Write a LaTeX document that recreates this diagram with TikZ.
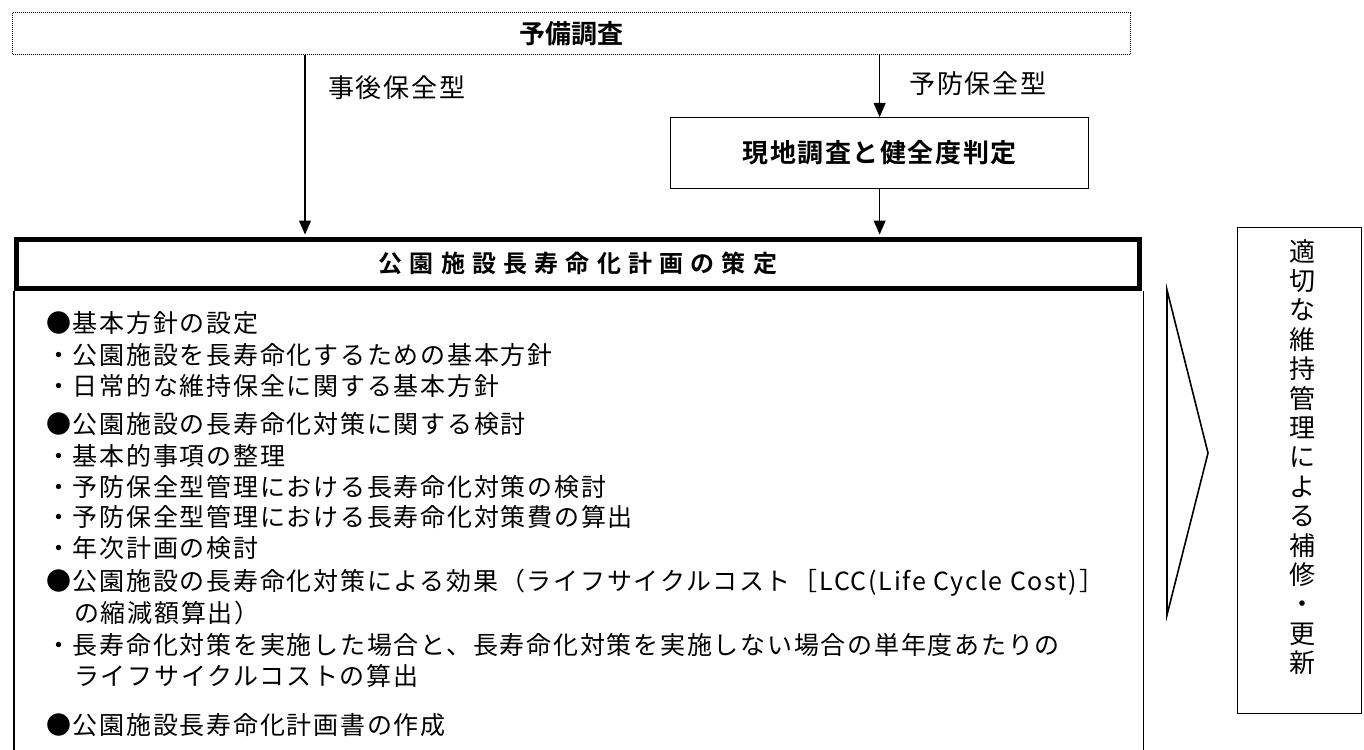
\documentclass[tikz,border=0pt]{standalone}
\usepackage{fontspec}
\setmainfont{Noto Sans CJK JP}[BoldFont={Noto Sans CJK JP Bold}]
\usetikzlibrary{arrows.meta}
\newcommand\bodyfnt{\fontsize{25}{30}\selectfont\addfontfeature{LetterSpace=7}}
\tikzset{
  body/.style={anchor=west, inner sep=0pt, font=\bodyfnt},
  lab/.style={anchor=west, inner sep=0pt, font=\fontsize{26}{28}\selectfont\addfontfeature{LetterSpace=7}},
  flow/.style={line width=1.2pt, -{Triangle[length=14pt,width=12pt]}},
  thinbox/.style={draw, line width=1.3pt, inner sep=0pt},
}
\begin{document}
\begin{tikzpicture}[x=1pt,y=-1pt]
\useasboundingbox (0,0) rectangle (1364,749);
% top dotted box
\node[draw, line width=1pt, dash pattern=on 1pt off 1pt, minimum width=1118pt, minimum height=42pt, anchor=north west, inner sep=0pt, font=\fontsize{26}{28}\selectfont\bfseries] (yobi) at (12,12) {予備調査};
% field survey box
\node[thinbox, minimum width=418pt, minimum height=71pt, anchor=north west, font=\fontsize{26}{28}\selectfont\bfseries\addfontfeature{LetterSpace=6}] (genchi) at (670,117) {現地調査と健全度判定};
% plan title box
\node[draw, line width=5pt, minimum width=1123pt, minimum height=48.5pt, anchor=north west, inner sep=0pt, font=\fontsize{24}{26}\selectfont\bfseries\addfontfeature{LetterSpace=30}] (plan) at (14,237) {公園施設長寿命化計画の策定};
% content box sides
\draw[line width=1.8pt] (plan.south west) -- ++(0,470);
\draw[line width=1.8pt] ([xshift=1.5pt]plan.south east) -- ++(0,470);
% arrows
\coordinate (lx) at (305,0);
\draw[flow] (yobi.south -| lx) -- ([yshift=2.5pt]plan.north -| lx);
\draw[flow] (genchi.north |- yobi.south) -- (genchi.north);
\draw[flow] (genchi.south) -- ([yshift=2.5pt]genchi.south |- plan.north);
% labels
\node[lab] (jigo) at (328,88) {事後保全型};
\node[lab] (yobo) at (909,84) {予防保全型};
% body text
\node[body] (t1) at (46,323) {●基本方針の設定};
\node[body] (t2) at (46,355) {・公園施設を長寿命化するための基本方針};
\node[body] (t3) at (46,386) {・日常的な維持保全に関する基本方針};
\node[body] (t4) at (46,424) {●公園施設の長寿命化対策に関する検討};
\node[body] (t5) at (46,456) {・基本的事項の整理};
\node[body] (t6) at (46,487) {・予防保全型管理における長寿命化対策の検討};
\node[body] (t7) at (46,517) {・予防保全型管理における長寿命化対策費の算出};
\node[body] (t8) at (46,548) {・年次計画の検討};
\node[body] (t9) at (46,583) {●公園施設の長寿命化対策による効果（ライフサイクルコスト［LCC(Life Cycle Cost)］};
\node[body] (t10) at (74,613) {の縮減額算出）};
\node[body] (t11) at (46,645) {・長寿命化対策を実施した場合と、長寿命化対策を実施しない場合の単年度あたりの};
\node[body] (t12) at (74,676) {ライフサイクルコストの算出};
\node[body] (t13) at (46,725) {●公園施設長寿命化計画書の作成};
% chevron
\draw[line width=1.6pt, line join=miter] (1167,290) -- (1208,453) -- (1167,615) -- cycle;
% right vertical box
\node[thinbox, minimum width=124pt, minimum height=486pt, anchor=north west] (right) at (1237,227) {};
\node[inner sep=0pt, align=center, font=\fontsize{26}{29.4}\selectfont] (rightT) at (1302,457) {適\\切\\な\\維\\持\\管\\理\\に\\よ\\る\\補\\修\\・\\更\\新};
\end{tikzpicture}
\end{document}
